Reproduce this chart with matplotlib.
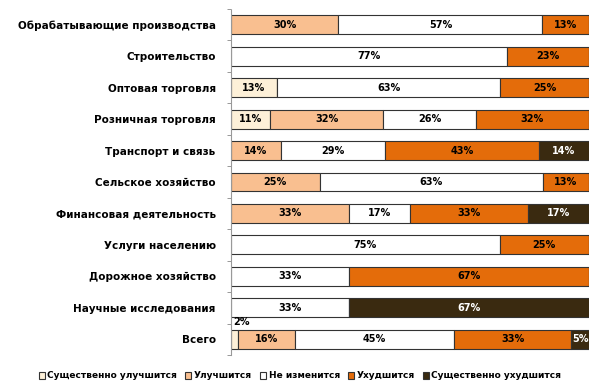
import numpy as np
import matplotlib.pyplot as plt
from matplotlib.ticker import FixedLocator

categories = ["Обрабатывающие производства", "Строительство", "Оптовая торговля",
              "Розничная торговля", "Транспорт и связь", "Сельское хозяйство",
              "Финансовая деятельность", "Услуги населению", "Дорожное хозяйство",
              "Научные исследования", "Всего"]
series = ["Существенно улучшится", "Улучшится", "Не изменится", "Ухудшится",
          "Существенно ухудшится"]
much_better = [0, 0, 13, 11, 0, 0, 0, 0, 0, 0, 2]
better = [30, 0, 0, 32, 14, 25, 33, 0, 0, 0, 16]
same = [57, 77, 63, 26, 29, 63, 17, 75, 33, 33, 45]
worse = [13, 23, 25, 32, 43, 13, 33, 25, 67, 0, 33]
much_worse = [0, 0, 0, 0, 14, 0, 17, 0, 0, 67, 5]

colors = ["#fdf0d8", "#f9bf90", "#ffffff", "#e46c0a", "#3a2a10"]
text_colors = ["black", "black", "black", "black", "white"]

data = np.array([much_better, better, same, worse, much_worse], dtype=float)
shares = data / data.sum(axis=0)

fig = plt.figure(figsize=(5.98, 3.91), dpi=100)
ax = fig.add_axes([231 / 598, 1 - 355 / 391, 358 / 598, 346 / 391])

y = np.arange(len(categories))
left = np.zeros(len(categories))
for i, name in enumerate(series):
    ax.barh(y, shares[i], left=left, height=0.6, color=colors[i],
            edgecolor="#333333", linewidth=0.8, label=name)
    for j in range(len(categories)):
        v = data[i, j]
        if v == 0:
            continue
        cx = left[j] + shares[i, j] / 2
        cy = y[j]
        if v < 5:
            # tiny segment: label sits above the bar
            ax.text(left[j] + 0.005, cy - 0.4, f"{int(v)}%", ha="left", va="bottom",
                    fontsize=7, fontweight="bold", color="black")
        else:
            ax.text(cx, cy, f"{int(v)}%", ha="center", va="center",
                    fontsize=7, fontweight="bold", color=text_colors[i])
    left += shares[i]

ax.set_xlim(0, 1)
ax.set_ylim(len(categories) - 0.5, -0.5)
ax.set_yticks(y)
ax.set_yticklabels(categories, fontsize=7.5, fontweight="bold")
ax.yaxis.set_minor_locator(FixedLocator(np.arange(-0.5, len(categories), 1)))
ax.tick_params(axis="y", which="major", length=0, pad=11)
ax.tick_params(axis="y", which="minor", length=3, color="#888888", direction="out")
ax.set_xticks([])
for s in ["top", "right", "bottom"]:
    ax.spines[s].set_visible(False)
ax.spines["left"].set_color("#999999")
ax.spines["left"].set_linestyle((0, (2, 1)))
ax.spines["left"].set_linewidth(0.8)

leg = fig.legend(loc="center", bbox_to_anchor=(300 / 598, 1 - 376 / 391), ncol=5,
                 frameon=False, handlelength=0.7, handleheight=0.7,
                 handletextpad=0.25, columnspacing=0.9,
                 prop={"weight": "bold", "size": 6.5})

fig.savefig("out.png", dpi=100)
